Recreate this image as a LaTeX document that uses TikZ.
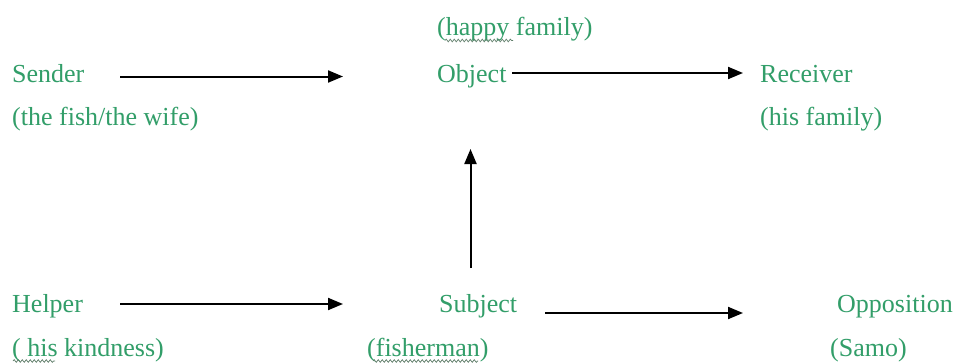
\documentclass[tikz,border=0pt]{standalone}
\usepackage{fontspec}
\setmainfont{Liberation Serif}
\usetikzlibrary{arrows.meta,decorations.pathmorphing}
\definecolor{txtgreen}{RGB}{50,158,105}
\definecolor{wavy}{RGB}{95,125,105}
\tikzset{
  lbl/.style={anchor=base west, inner sep=0pt, text=txtgreen, font=\fontsize{26}{30}\selectfont},
  arr/.style={line width=2pt, -{Triangle[length=15pt,width=12pt]}},
  spell/.style={draw=wavy, line width=0.7pt, decorate, decoration={snake, segment length=4pt, amplitude=1.3pt}}
}
\begin{document}
\begin{tikzpicture}[x=1pt,y=-1pt]
\useasboundingbox[fill=white] (0,0) rectangle (959,362);
% texts
\node[lbl] (happy) at (437,35) {(happy family)};
\node[lbl] (sender) at (12,82) {Sender};
\node[lbl] (object) at (437,82) {Object};
\node[lbl] (receiver) at (760,82) {Receiver};
\node[lbl] (fish) at (12,125) {(the fish/the wife)};
\node[lbl] (hisfam) at (760,125) {(his family)};
\node[lbl] (helper) at (12,312) {Helper};
\node[lbl] (subject) at (439,312) {Subject};
\node[lbl] (opposition) at (837,312) {Opposition};
\node[lbl] (kind) at (12,356) {( his kindness)};
\node[lbl] (fisher) at (367,356) {(fisherman)};
\node[lbl] (samo) at (830,356) {(Samo)};
% arrow end points
\coordinate (s1) at (120,76.5);
\coordinate (s2) at (343,76.5);
\coordinate (o1) at (512,73);
\coordinate (o2) at (743,73);
\coordinate (v1) at (470.5,268);
\coordinate (v2) at (470.5,149);
\coordinate (h1) at (120,304);
\coordinate (h2) at (343,304);
\coordinate (b1) at (545,313);
\coordinate (b2) at (743,313);
\draw[arr] (s1) -- (s2);
\draw[arr] (o1) -- (o2);
\draw[arr] (v1) -- (v2);
\draw[arr] (h1) -- (h2);
\draw[arr] (b1) -- (b2);
% spell-check underlines
\coordinate (w1a) at (445,40.5);
\coordinate (w1b) at (513,40.5);
\coordinate (w2a) at (13,361);
\coordinate (w2b) at (55,361);
\coordinate (w3a) at (373,361);
\coordinate (w3b) at (478,361);
\path[spell] (w1a) -- (w1b);
\path[spell] (w2a) -- (w2b);
\path[spell] (w3a) -- (w3b);
\end{tikzpicture}
\end{document}
